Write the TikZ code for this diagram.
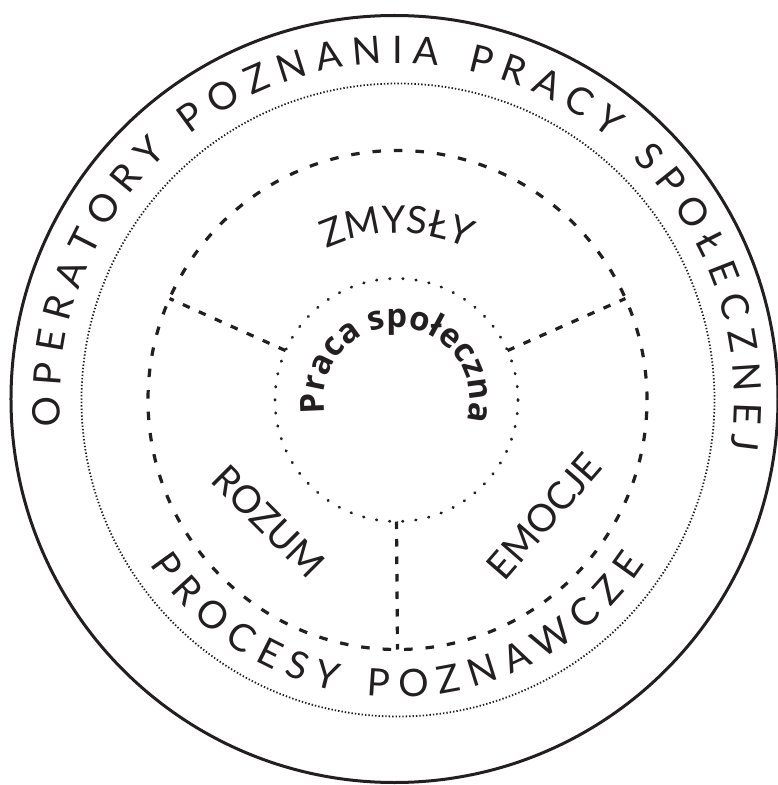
\documentclass[tikz,border=0pt]{standalone}
\usepackage{fontspec}
\setmainfont{Lato}
\newfontfamily\boldsans{Open Sans}
\usetikzlibrary{decorations.text}
\definecolor{ink}{RGB}{35,31,32}
\newcommand\capsfont{\fontsize{38}{40}\selectfont}
\newcommand\midfont{\fontsize{38}{40}\selectfont}
\newcommand\corefont{\boldsans\bfseries\fontsize{33}{35}\selectfont}
\begin{document}
\begin{tikzpicture}[x=1pt,y=1pt,
  ring/.style={circle, inner sep=0pt, outer sep=0pt},
  solidring/.style={ring, draw=ink, line width=3pt},
  fineddots/.style={ring, draw=ink, line width=1.8pt, dash pattern=on 1.4pt off 2pt},
  dashring/.style={ring, draw=ink, line width=3.2pt, dash pattern=on 8.5pt off 13pt},
  sparsedots/.style={ring, draw=ink, line width=2.8pt, line cap=round, dash pattern=on 0.6pt off 12.55pt},
  dashline/.style={draw=ink, line width=3.2pt, dash pattern=on 7.5pt off 10pt},
  label/.style={inner sep=0pt, text=ink, font=\midfont, text depth=0pt}
]
\useasboundingbox (-397pt,-385pt) rectangle (381pt,400pt);

% rings
\node[solidring, minimum size=767pt] (outer) at (-2.5pt,1pt) {};
\node[fineddots, minimum size=633pt] (procring) at (1pt,0pt) {};
\node[dashring, minimum size=499pt] (sense) at (0.5pt,0pt) {};
\node[sparsedots, minimum size=243pt] (core) at (-0.5pt,0pt) {};

% radial dashed connectors
\draw[dashline] (core.156) -- (sense.156);
\draw[dashline] (core.24) -- (sense.24);
\draw[dashline] (core.270) -- (sense.270);

% outer band text
\path[decorate, decoration={text along path, text color=ink, text align={fit to path},
  text={|\capsfont|OPERATORY POZNANIA PRACY SPOŁECZNEJ}}]
  (184.5:337pt) arc[start angle=184.5, end angle=-8.5, radius=337pt];

% lower band text
\path[decorate, decoration={text along path, text color=ink, text align={fit to path},
  text={|\capsfont|PROCESY POZNAWCZE}}]
  (213.5:297pt) arc[start angle=213.5, end angle=326.5, radius=297pt];

% ZMYSLY
\path[decorate, decoration={text along path, text color=ink, text align={center},
  text={|\midfont|ZMYSŁY}}]
  (150:167pt) arc[start angle=150, end angle=30, radius=167pt];

% Praca spoleczna
\path[decorate, decoration={text along path, text color=ink, text align={center},
  text={|\corefont|Praca społeczna}}]
  (195:73pt) arc[start angle=195, end angle=-21, radius=73pt];

% ROZUM and EMOCJE
\node[label, rotate=-45] (rozum) at (-128.5pt,-121.5pt) {ROZUM};
\node[label, rotate=49] (emocje) at (147pt,-116pt) {EMOCJE};
\end{tikzpicture}
\end{document}
